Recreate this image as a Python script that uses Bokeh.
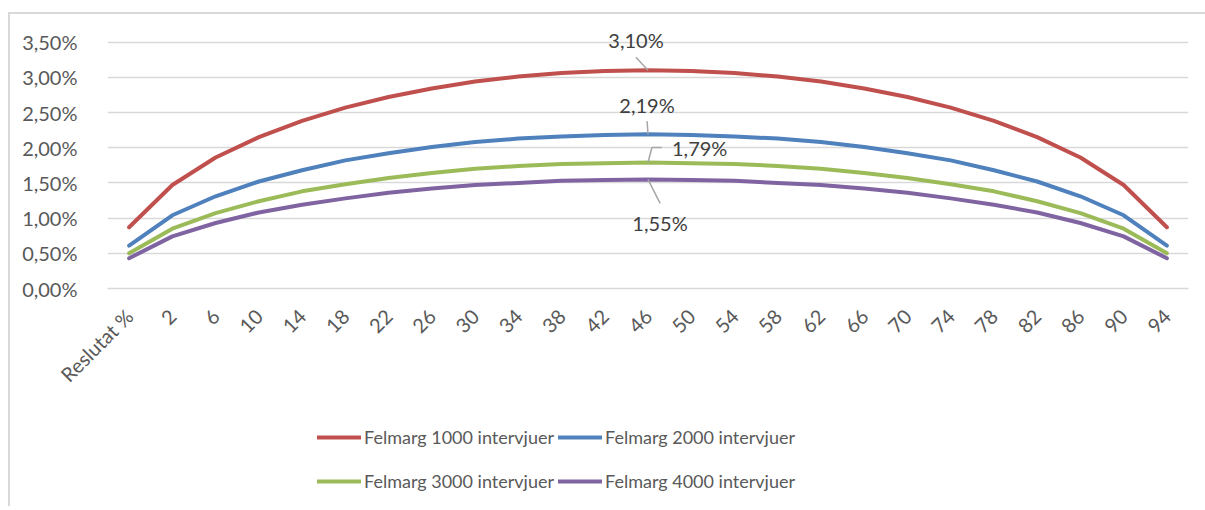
import math
from bokeh.plotting import figure
from bokeh.layouts import column
from bokeh.models import (FactorRange, Range1d, FixedTicker, CustomJSTickFormatter,
                          Legend, LegendItem, ColumnDataSource)
from bokeh.transform import dodge
from bokeh.core.properties import value
from bokeh.embed import file_html
from bokeh.resources import INLINE

# ---------------- data ----------------
x_labels = ["Reslutat %", "2", "6", "10", "14", "18", "22", "26", "30", "34", "38", "42",
            "46", "50", "54", "58", "62", "66", "70", "74", "78", "82", "86", "90", "94"]

felmarg_1000 = [0.87, 1.47, 1.86, 2.15, 2.38, 2.57, 2.72, 2.84, 2.94, 3.01, 3.06, 3.09, 3.10,
                3.09, 3.06, 3.01, 2.94, 2.84, 2.72, 2.57, 2.38, 2.15, 1.86, 1.47, 0.87]
felmarg_2000 = [0.61, 1.04, 1.31, 1.52, 1.68, 1.82, 1.92, 2.01, 2.08, 2.13, 2.16, 2.18, 2.19,
                2.18, 2.16, 2.13, 2.08, 2.01, 1.92, 1.82, 1.68, 1.52, 1.31, 1.04, 0.61]
felmarg_3000 = [0.50, 0.85, 1.07, 1.24, 1.38, 1.48, 1.57, 1.64, 1.70, 1.74, 1.77, 1.78, 1.79,
                1.78, 1.77, 1.74, 1.70, 1.64, 1.57, 1.48, 1.38, 1.24, 1.07, 0.85, 0.50]
felmarg_4000 = [0.43, 0.74, 0.93, 1.08, 1.19, 1.28, 1.36, 1.42, 1.47, 1.50, 1.53, 1.54, 1.55,
                1.54, 1.53, 1.50, 1.47, 1.42, 1.36, 1.28, 1.19, 1.08, 0.93, 0.74, 0.43]

series_names = ["Felmarg 1000 intervjuer", "Felmarg 2000 intervjuer",
                "Felmarg 3000 intervjuer", "Felmarg 4000 intervjuer"]
series_values = [felmarg_1000, felmarg_2000, felmarg_3000, felmarg_4000]
series_colors = ["#C0504D", "#4F81BD", "#9BBB59", "#8064A2"]

y_ticks = [0.0, 0.5, 1.0, 1.5, 2.0, 2.5, 3.0, 3.5]

label_index = 12
data_labels = ["3,10%", "2,19%", "1,79%", "1,55%"]

FONT = "Lato"
TXT = "#595959"
GRID = "#d9d9d9"

# ---------------- main chart ----------------
W = 1195
p = figure(x_range=FactorRange(*x_labels), y_range=Range1d(0, 3.75),
           width=W, height=384, output_backend="svg", toolbar_location=None,
           min_border_left=97, min_border_right=17, min_border_top=10,
           min_border_bottom=110)
p.outline_line_color = None
p.background_fill_color = "white"
p.border_fill_color = "white"

p.xgrid.grid_line_color = None
p.ygrid.grid_line_color = GRID
p.ygrid.grid_line_width = 1.5

p.yaxis.ticker = FixedTicker(ticks=y_ticks)
p.yaxis.formatter = CustomJSTickFormatter(
    code="return tick.toFixed(2).replace('.', ',') + '%';")
p.yaxis.axis_line_color = None
p.yaxis.major_tick_line_color = None
p.yaxis.minor_tick_line_color = None
p.yaxis.major_label_standoff = 24
p.yaxis.major_label_text_font = FONT
p.yaxis.major_label_text_font_size = "20px"
p.yaxis.major_label_text_color = TXT

p.xaxis.axis_line_color = GRID
p.xaxis.axis_line_width = 1.5
p.xaxis.major_tick_line_color = None
p.xaxis.minor_tick_line_color = None
p.xaxis.major_label_orientation = math.pi / 4
p.xaxis.major_label_standoff = 18
p.xaxis.major_label_text_font = FONT
p.xaxis.major_label_text_font_size = "20px"
p.xaxis.major_label_text_color = TXT

for vals, col in zip(series_values, series_colors):
    p.line(x=x_labels, y=vals, line_color=col, line_width=4,
           line_cap="round", line_join="round")

# ---------------- data labels ----------------
px_per_unit = 264 / 3.75          # vertical pixels per percent unit
xf = x_labels[label_index]
lead = "#a6a6a6"

def seg(dx0, y0, dx1, y1):
    src = ColumnDataSource(dict(x=[xf], y0=[y0], y1=[y1]))
    p.segment(x0=dodge("x", dx0, range=p.x_range), y0="y0",
              x1=dodge("x", dx1, range=p.x_range), y1="y1",
              source=src, line_color=lead, line_width=1.5)

v1 = felmarg_1000[label_index]
v2 = felmarg_2000[label_index]
v3 = felmarg_3000[label_index]
v4 = felmarg_4000[label_index]

seg(0, v1, -0.28, v1 + 13 / px_per_unit)
seg(0, v2, -0.02, v2 + 13 / px_per_unit)
seg(0, v3, 0.09, v3 + 15 / px_per_unit)
seg(0.09, v3 + 15 / px_per_unit, 0.32, v3 + 15 / px_per_unit)
seg(0, v4, 0.28, v4 - 24 / px_per_unit)

label_specs = [
    (v1, data_labels[0], -12, -30, "center"),
    (v2, data_labels[1], -1, -29, "center"),
    (v3, data_labels[2], 24, -14, "left"),
    (v4, data_labels[3], 12, 44, "center"),
]
for v, t, dx, dy, al in label_specs:
    p.text(x=[xf], y=[v], text=[t], x_offset=dx, y_offset=dy, text_align=al,
           text_baseline="middle", text_font=value(FONT), text_font_size="20px",
           text_color="#404040")

# ---------------- legend strip ----------------
pl = figure(width=W, height=108, output_backend="svg", toolbar_location=None,
            x_axis_type=None, y_axis_type=None, x_range=Range1d(0, 1),
            y_range=Range1d(0, 1), min_border=0)
pl.outline_line_color = None
pl.xgrid.visible = False
pl.ygrid.visible = False
items = []
for name, col in zip(series_names, series_colors):
    # off-range sample so that the legend swatch is drawn
    r = pl.line(x=[-5, -4], y=[-5, -5], line_color=col, line_width=4,
                line_cap="round")
    items.append(LegendItem(label=name, renderers=[r]))

legend = Legend(items=items, orientation="horizontal", ncols=2,
                location=(210, 5), glyph_width=44, glyph_height=40,
                label_height=40, label_standoff=3, spacing=4, padding=0,
                margin=0, border_line_color=None, background_fill_alpha=0,
                label_text_font=FONT, label_text_font_size="18px",
                label_text_color=TXT)
pl.add_layout(legend, "center")

layout = column(p, pl, spacing=0,
                styles={"margin-left": "8px", "margin-top": "12px",
                        "border-left": "2px solid #d9d9d9",
                        "border-top": "2px solid #d9d9d9"})

open("out.html", "w").write(file_html(layout, INLINE))
